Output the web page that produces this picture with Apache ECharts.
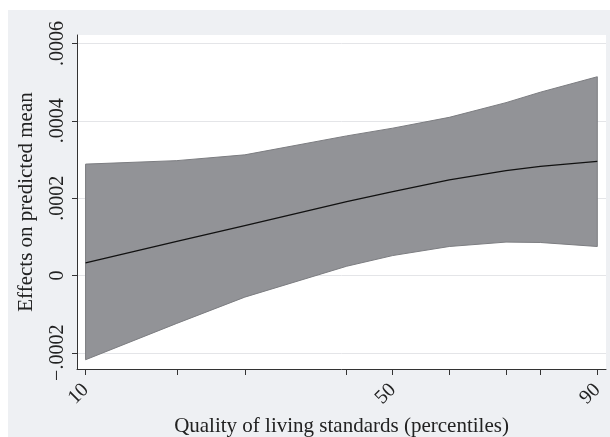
<!DOCTYPE html>
<html>
<head>
<meta charset="utf-8">
<script src="https://cdn.jsdelivr.net/npm/echarts@6/dist/echarts.min.js"></script>
<style>
html,body{margin:0;padding:0;background:#ffffff;}
#chart{width:610px;height:437px;}
</style>
</head>
<body>
<div id="chart"></div>
<script>
// Percentiles of living standards quality and the underlying index value at each percentile
const percentiles = [10, 20, 30, 40, 50, 60, 70, 80, 90];
const indexValues = [10, 24.26, 34.89, 50.82, 58.02, 66.86, 75.73, 81.09, 90];
const labelledPercentiles = [10, 50, 90];
// Effects on predicted mean
const meanEffect = [0.0000328, 0.0000881, 0.000129, 0.000191, 0.000217, 0.000247, 0.000271, 0.000282, 0.000295];
const upperCI = [0.000288, 0.000297, 0.000312, 0.000361, 0.000381, 0.000409, 0.000447, 0.000474, 0.000514];
const lowerCI = [-0.000218, -0.000124, -0.0000561, 0.0000238, 0.0000515, 0.0000749, 0.0000863, 0.0000853, 0.0000749];
const yTicks = [-0.0002, 0, 0.0002, 0.0004, 0.0006];
const yTickLabels = ['\u2212.0002', '0', '.0002', '.0004', '.0006'];

const chart = echarts.init(document.getElementById('chart'), null, {renderer: 'canvas'});
const font = 'Liberation Serif';

const bandData = indexValues.map((x, i) => [x, lowerCI[i], upperCI[i]]);
const meanData = indexValues.map((x, i) => [x, meanEffect[i]]);
const labelIdx = labelledPercentiles.map(p => percentiles.indexOf(p));

function nearestIndex(arr, v) {
  let best = 0;
  for (let i = 0; i < arr.length; i++) {
    if (Math.abs(arr[i] - v) < Math.abs(arr[best] - v)) best = i;
  }
  return best;
}

const option = {
  backgroundColor: '#ffffff',
  animation: false,
  graphic: [{
    type: 'rect', z: -10, silent: true,
    shape: {x: 8, y: 10, width: 602, height: 427},
    style: {fill: '#eef0f3'}
  }],
  grid: {
    left: 77, top: 35, right: 4, bottom: 68,
    containLabel: false,
    outerBoundsMode: 'none',
    show: true, backgroundColor: '#ffffff', borderWidth: 0
  },
  xAxis: {
    type: 'value',
    min: 8.66, max: 91.36,
    name: 'Quality of living standards (percentiles)',
    nameLocation: 'middle',
    nameGap: 47,
    nameTextStyle: {fontFamily: font, fontSize: 21, color: '#222'},
    axisLine: {show: true, onZero: false, lineStyle: {color: '#333', width: 1}},
    axisTick: {show: true, length: 6, lineStyle: {color: '#333', width: 1},
      customValues: indexValues},
    axisLabel: {
      fontFamily: font, fontSize: 20, color: '#222', rotate: 45, margin: 18,
      customValues: labelIdx.map(i => indexValues[i]),
      formatter: function (v) { return String(percentiles[nearestIndex(indexValues, v)]); }
    },
    splitLine: {show: false}
  },
  yAxis: {
    type: 'value',
    min: -0.000242, max: 0.000622,
    name: 'Effects on predicted mean',
    nameLocation: 'middle',
    nameGap: 40,
    nameTextStyle: {fontFamily: font, fontSize: 21, color: '#222'},
    axisLine: {show: true, onZero: false, lineStyle: {color: '#333', width: 1}},
    axisTick: {show: true, length: 5, lineStyle: {color: '#333', width: 1},
      customValues: yTicks},
    axisLabel: {
      fontFamily: font, fontSize: 20, color: '#222', rotate: 90, margin: 9,
      customValues: yTicks,
      formatter: function (v) { return yTickLabels[nearestIndex(yTicks, v)]; }
    },
    splitLine: {show: true, lineStyle: {color: '#e4e5e8', width: 1}}
  },
  series: [
    {
      type: 'custom',
      data: bandData,
      encode: {x: 0, y: [1, 2]},
      z: 2,
      renderItem: function (params, api) {
        if (params.dataIndex !== 0) return null;
        const pts = [];
        for (let i = 0; i < bandData.length; i++) {
          pts.push(api.coord([bandData[i][0], bandData[i][2]]));
        }
        for (let i = bandData.length - 1; i >= 0; i--) {
          pts.push(api.coord([bandData[i][0], bandData[i][1]]));
        }
        return {
          type: 'polygon',
          shape: {points: pts},
          style: {fill: '#929397', stroke: '#7c7d81', lineWidth: 1}
        };
      }
    },
    {
      type: 'line', data: meanData, symbol: 'none',
      lineStyle: {color: '#111111', width: 1.3}, z: 3
    }
  ]
};
chart.setOption(option);
</script>
</body>
</html>
